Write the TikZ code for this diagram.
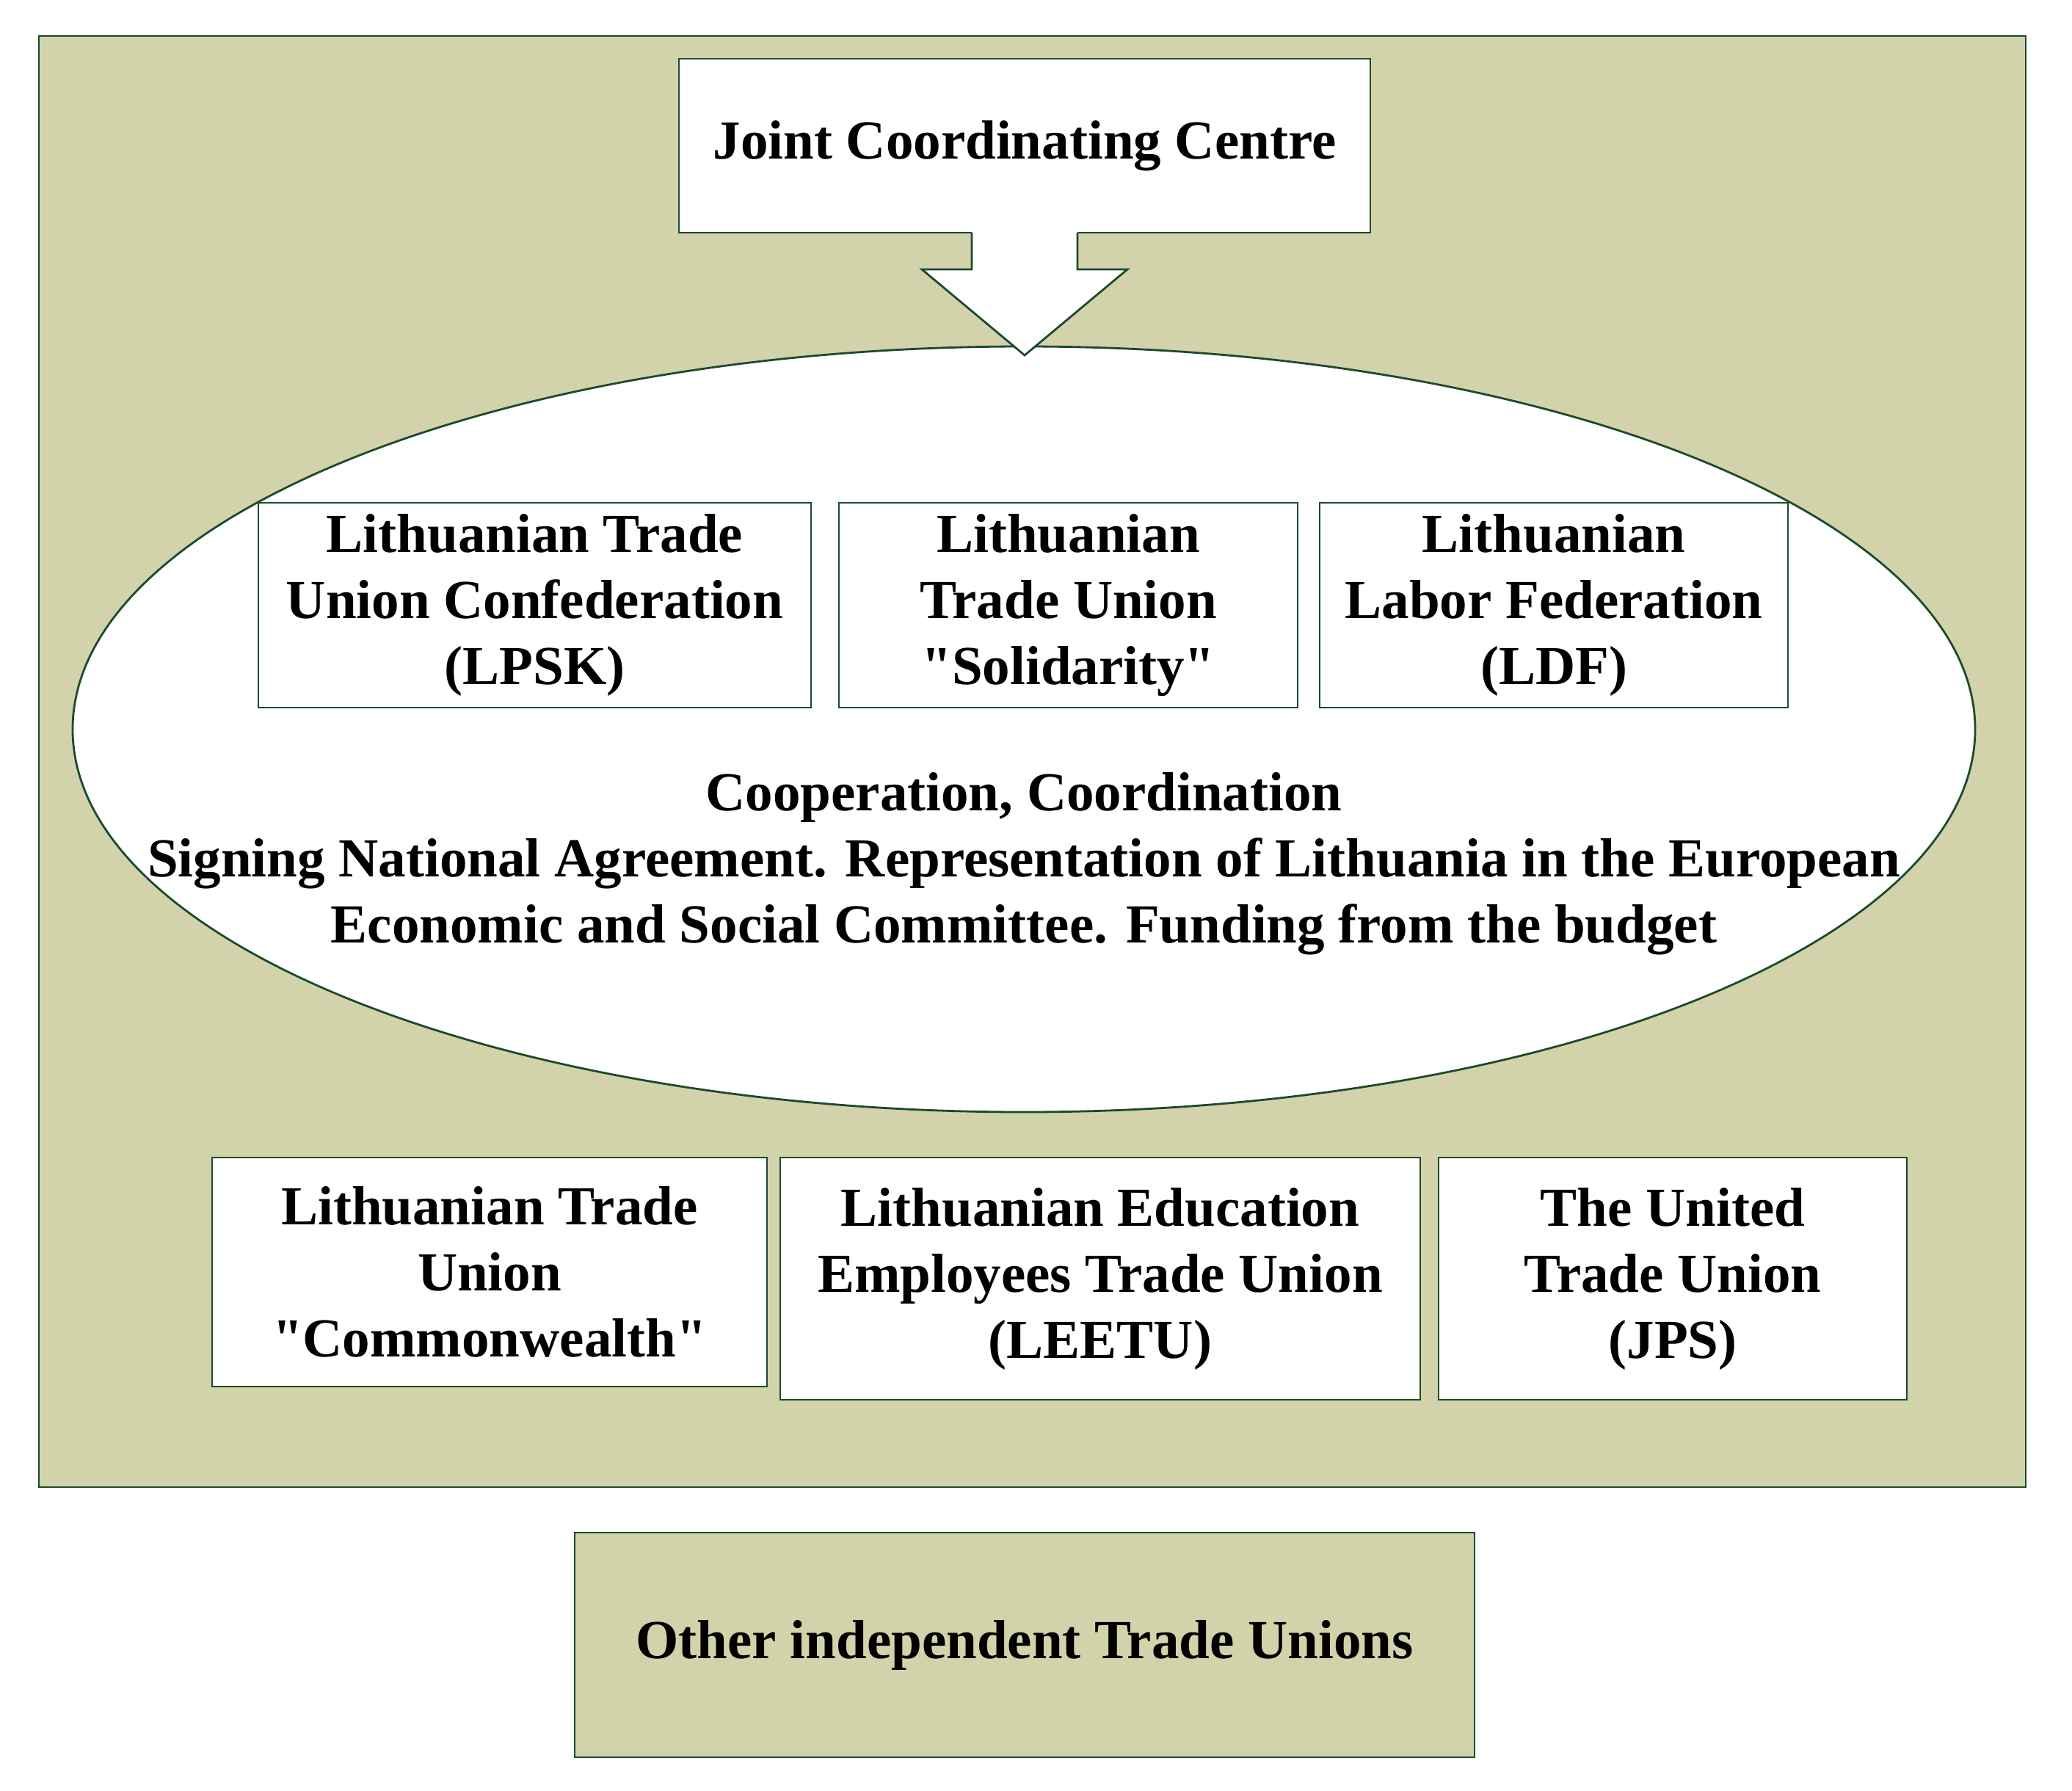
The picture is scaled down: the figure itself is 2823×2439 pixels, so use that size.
\documentclass[tikz,border=0pt]{standalone}
\usepackage{fontspec}
\setmainfont{Liberation Serif}
\usetikzlibrary{positioning, shapes.geometric}
\definecolor{olivebg}{HTML}{D3D3AB}
\definecolor{unionline}{HTML}{1B4A2C}

\begin{document}
\begin{tikzpicture}[x=0.25pt, y=-0.25pt, line width=0.7pt,
    font=\fontsize{18.75}{22.5}\selectfont\bfseries,
    box/.style={draw=unionline, fill=white, align=center, inner sep=0pt, outer sep=0pt},
    toprow/.style={box, minimum height=69.75pt},
    lowrow/.style={box, anchor=north west}]

  \useasboundingbox (0,0) rectangle (2823,2439);

  % Define frame and outside box
  \node[box, fill=olivebg, minimum width=676.75pt, minimum height=494.25pt] (frame) at (1406.5,1037.5) {};
  \node[box, fill=olivebg, minimum width=306.5pt, minimum height=76.5pt] (other) at (1396,2241) {Other independent Trade Unions};

  % Define centre and ellipse
  \node[box, minimum width=235.5pt, minimum height=59.25pt] (jcc) at (1396,198.5) {Joint Coordinating Centre};
  \node[draw=unionline, fill=white, ellipse, minimum width=648pt, minimum height=260.75pt, inner sep=0pt] (coop) at (1395,993.5) {};

  % Define block arrow
  \coordinate (tip) at (1396,484);
  \fill[white] ([xshift=-18pt, yshift=0.5pt]jcc.south) -- ++(0,52) -- ++(-68,0) -- (tip)
        -- ++(140,-117) -- ++(-68,0) -- ++(0,-52) -- cycle;
  \draw[unionline] ([xshift=-18pt]jcc.south) -- ++(0,50) -- ++(-68,0) -- (tip)
        -- ++(140,-117) -- ++(-68,0) -- ++(0,-50);

  % Define inner unions
  \node[toprow, minimum width=188.25pt] (lpsk) at (728.5,824.5) {Lithuanian Trade\\Union Confederation\\(LPSK)};
  \node[toprow, minimum width=156.25pt, right=9.5pt of lpsk] (solidarity) {Lithuanian\\Trade Union\\\textquotedbl Solidarity\textquotedbl};
  \node[toprow, minimum width=159.5pt, right=7.5pt of solidarity] (ldf) {Lithuanian\\Labor Federation\\(LDF)};

  \node[align=center] (cooptext) at (1395,1177) {Cooperation, Coordination\\Signing National Agreement. Representation of Lithuania in the European\\Economic and Social Committee. Funding from the budget};

  % Define lower unions
  \node[lowrow, minimum width=189pt, minimum height=78pt] (commonwealth) at (289,1577) {Lithuanian Trade\\Union\\\textquotedbl Commonwealth\textquotedbl};
  \node[lowrow, minimum width=218pt, minimum height=82.5pt] (leetu) at ([xshift=4.5pt]commonwealth.north east) {Lithuanian Education\\Employees Trade Union\\(LEETU)};
  \node[lowrow, minimum width=159.5pt, minimum height=82.5pt] (jps) at ([xshift=6.25pt]leetu.north east) {The United\\Trade Union\\(JPS)};

\end{tikzpicture}
\end{document}
